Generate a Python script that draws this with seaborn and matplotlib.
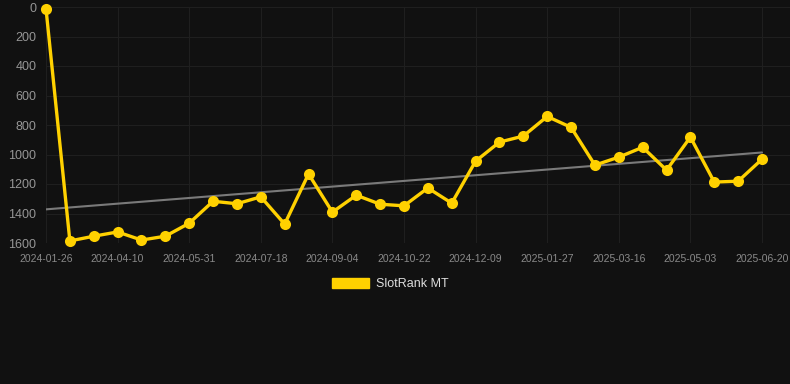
import matplotlib
matplotlib.use("Agg")
import matplotlib.pyplot as plt
import matplotlib.patches as mpatches
import seaborn as sns
import numpy as np
import pandas as pd

# ---- data ----
rank_values = [12, 1586, 1554, 1525, 1580, 1554, 1466, 1317, 1334, 1287,
               1472, 1132, 1391, 1276, 1337, 1348, 1227, 1330, 1045, 916,
               875, 742, 816, 1072, 1018, 951, 1106, 882, 1187, 1181, 1032]
tick_labels = ["2024-01-26", "2024-04-10", "2024-05-31", "2024-07-18",
               "2024-09-04", "2024-10-22", "2024-12-09", "2025-01-27",
               "2025-03-16", "2025-05-03", "2025-06-20"]
series_name = "SlotRank MT"
y_ticks = [0, 200, 400, 600, 800, 1000, 1200, 1400, 1600]

df = pd.DataFrame({"idx": np.arange(len(rank_values)), "rank": rank_values})

BG = "#111111"
GOLD = "#FFD100"
W, H = 790, 384
sns.set_style("dark")
plt.rcParams["font.family"] = ["Liberation Sans", "DejaVu Sans"]
fig = plt.figure(figsize=(W / 100, H / 100), dpi=100, facecolor=BG)
ax = fig.add_axes([46 / W, 1 - 243 / H, (790 - 46) / W, (243 - 7) / H])
ax.set_facecolor(BG)

# trend line
sns.regplot(data=df, x="idx", y="rank", scatter=False, ci=None, ax=ax,
            line_kws=dict(color="#7a7a7a", lw=1.5, zorder=2))
# main series
sns.lineplot(data=df, x="idx", y="rank", ax=ax, color=GOLD, lw=2.4,
             marker="o", markersize=8, markeredgewidth=0, zorder=3,
             clip_on=False)

ax.set_xlim(0, 30 + (790 - 762) / 23.87)
ax.set_ylim(1600, 0)
ax.set_yticks(y_ticks)
ax.set_yticklabels([str(v) for v in y_ticks])
ax.set_xticks(np.arange(0, len(rank_values), 3))
ax.set_xticklabels(tick_labels)
ax.set_xlabel("")
ax.set_ylabel("")

ax.grid(True, color="#1f1f1f", lw=0.8)
ax.set_axisbelow(True)
for s in ax.spines.values():
    s.set_visible(False)
ax.tick_params(axis="y", labelsize=9, length=0, pad=7)
ax.tick_params(axis="x", labelsize=7.5, length=0, pad=8)
for lab in ax.get_yticklabels():
    lab.set_color("#969696")
for lab in ax.get_xticklabels():
    lab.set_color("#8a8a8a")

handle = mpatches.Patch(color=GOLD, label=series_name)
leg = fig.legend(handles=[handle], loc="center", bbox_to_anchor=(390 / W, 1 - 284 / H),
                 frameon=False, fontsize=9, handlelength=3.0, handleheight=0.9,
                 handletextpad=0.5)
for t in leg.get_texts():
    t.set_color("#dddddd")

fig.savefig("out.png", dpi=100, facecolor=BG)
